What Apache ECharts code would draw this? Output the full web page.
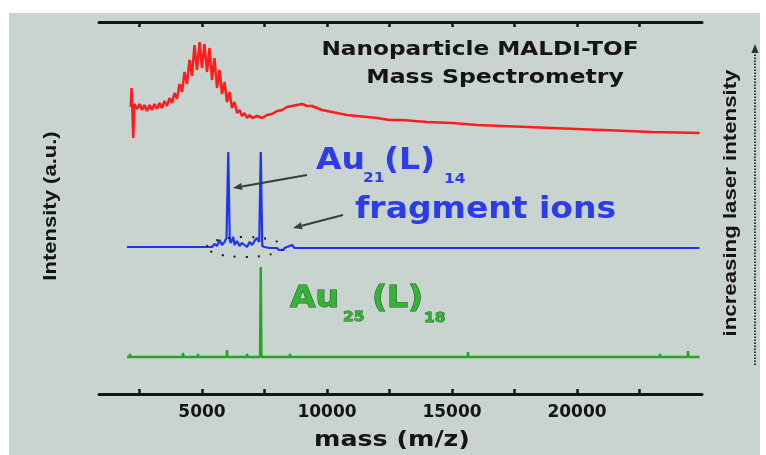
<!DOCTYPE html>
<html>
<head>
<meta charset="utf-8">
<script src="https://cdn.jsdelivr.net/npm/echarts@6/dist/echarts.min.js"></script>
<style>
html,body{margin:0;padding:0;background:#ffffff;}
#chart{width:766px;height:455px;}
</style>
</head>
<body>
<div id="chart"></div>
<script>
// ---- data (mass in m/z, intensity in arbitrary units) ----
const majorTicks = [5000, 10000, 15000, 20000];
const minorTicks = [2500, 5000, 7500, 10000, 12500, 15000, 17500, 20000, 22500];

const redMass = [2150,2180,2200,2250,2300,2400,2500,2600,2700,2800,2900,3000,3100,3200,3300,3400,3500,3600,3700,3800,3900,4000,4100,4200,4300,4400,4500,4600,4700,4800,4900,5000,5100,5200,5300,5400,5500,5600,5700,5800,5900,6000,6100,6200,6300,6400,6500,6600,6700,6800,6900,7000,7200,7400,7600,7800,8000,8200,8400,8600,8800,9000,9200,9400,9600,9800,10000,10400,10800,11200,11600,12000,12500,13000,14000,15000,16000,17000,18000,19000,20000,21000,22000,23000,24000,24900];
const redInt  = [33,52,40,2,36,31,36,30,35,29,35,30,36,31,37,32,39,34,42,37,47,41,56,48,68,56,80,64,95,70,98,72,96,68,92,60,82,52,70,46,58,38,48,32,38,27,30,24,27,22,25,22,24,22,25,26,29,30,33,34,35,36,34,34,32,30,29,27,25,24,23,22,20,20,18,17,15,14,13,12,11,10,9,8,7.5,7];

const blueMass = [2000,2500,3000,3500,4000,4500,5000,5400,5500,5600,5700,5800,5900,5980,6050,6110,6150,6250,6300,6400,6500,6600,6700,6800,6900,7000,7100,7200,7290,7350,7410,7500,7700,8000,8200,8300,8600,8700,9000,10000,12000,14000,16000,18000,20000,22000,24000,24900];
const blueInt  = [3,3,3,3,3,3,3,3,6,4,10,5,8,12,98,10,7,13,5,9,4,7,5,3,8,5,9,12,8,98,4,3,2,2,-3,2,5,2,2,2,2,2,2,2,2,2,2,2];

const greenMass = [2000, 2100,2120,2140, 2420,2440,2460, 2900,2920,2940, 3500,3520,3540, 4220,4240,4260, 4820,4840,4860, 5420,5440,5460, 5980,6000,6020, 6780,6800,6820, 7320,7350,7380, 8500,8520,8540, 9980,10000,10020, 10900,10920,10940, 11700,11720,11740, 12380,12400,12420, 13980,14000,14020, 15620,15640,15660, 16900,16920,16940, 19300,19320,19340, 21700,21720,21740, 23300,23320,23340, 24420,24440,24460, 24900];
const greenInt  = [3, 3,6,3, 3,5,3, 3,5,3, 3,5,3, 3,7,3, 3,6,3, 3,5,3, 3,10,3, 3,6,3, 3,93,3, 3,6,3, 3,5,3, 3,4,3, 3,5,3, 3,5,3, 3,5,3, 3,8,3, 3,5,3, 3,5,3, 3,5,3, 3,6,3, 3,9,3, 3];

const zip = (a, b) => a.map((v, i) => [v, b[i]]);

// ---- chart ----
const chart = echarts.init(document.getElementById('chart'), null, {renderer: 'canvas'});

const X_MIN = 880, X_MAX = 25000;
const L = 99, R = 64;
const hiddenX = (g) => ({gridIndex: g, type: 'value', min: X_MIN, max: X_MAX, show: false});
const hiddenY = (g) => ({gridIndex: g, type: 'value', min: 0, max: 110, show: false});

const axisFont = 'DejaVu Sans';
const ink = '#141414';

function arrow(x1, y1, x2, y2, color, dash) {
  const dx = x2 - x1, dy = y2 - y1, len = Math.hypot(dx, dy);
  const ux = dx / len, uy = dy / len;
  const hl = 9, hw = 3.6;
  const bx = x2 - ux * hl, by = y2 - uy * hl;
  return [
    {type: 'line', silent: true, z: 50,
     shape: {x1: x1, y1: y1, x2: bx, y2: by},
     style: {stroke: color, lineWidth: 2, lineDash: dash || null}},
    {type: 'polygon', silent: true, z: 50,
     shape: {points: [[x2, y2], [bx - uy * hw, by + ux * hw], [bx + uy * hw, by - ux * hw]]},
     style: {fill: color}}
  ];
}

function txt(x, y, text, font, fill, extra, el) {
  return Object.assign({
    type: 'text', silent: true, z: 60, x: x, y: y,
    style: Object.assign({text: text, font: font, fill: fill, textAlign: 'left', textVerticalAlign: 'middle'}, extra || {})
  }, el || {});
}

const blue = '#2a3cec', green = '#36b236', greenEdge = '#1b5e1b';
const big = 'bold 30px "DejaVu Sans"';
const sub = 'bold 14px "DejaVu Sans"';
const wide = {scaleX: 1.1};
const gEdge = {stroke: greenEdge, lineWidth: 1};

const graphics = [
  {type: 'rect', silent: true, z: -10, shape: {x: 9, y: 13, width: 751, height: 442}, style: {fill: '#c9d3d0'}},
  txt(480, 50, 'Nanoparticle MALDI-TOF', 'bold 20px "DejaVu Sans"', ink, {textAlign: 'center'}, {scaleX: 1.16}),
  txt(495, 78, 'Mass Spectrometry', 'bold 20px "DejaVu Sans"', ink, {textAlign: 'center'}, {scaleX: 1.18}),
  // Au21(L)14
  txt(316, 161, 'Au', big, blue, null, wide),
  txt(363, 178, '21', sub, blue, null, wide),
  txt(384, 161, '(L)', big, blue, null, wide),
  txt(444, 179, '14', sub, blue, null, wide),
  // fragment ions
  txt(355, 210, 'fragment ions', big, blue, null, wide),
  // Au25(L)18
  txt(290, 299, 'Au', big, green, gEdge, wide),
  txt(343, 317, '25', sub, green, {stroke: greenEdge, lineWidth: 0.8}, wide),
  txt(372, 299, '(L)', big, green, gEdge, wide),
  txt(424, 318, '18', sub, green, {stroke: greenEdge, lineWidth: 0.8}, wide),
  // axis titles
  txt(392, 440, 'mass (m/z)', 'bold 22px "DejaVu Sans"', ink, {textAlign: 'center'}, {scaleX: 1.15}),
  txt(51, 206, 'Intensity (a.u.)', 'bold 19px "Liberation Sans"', ink, {textAlign: 'center'}, {rotation: Math.PI / 2, scaleX: 1.16}),
  txt(731, 203, 'increasing laser intensity', 'bold 19px "Liberation Sans"', ink, {textAlign: 'center'}, {rotation: Math.PI / 2, scaleX: 1.17}),
  // dotted ellipse around fragment ions
  {type: 'ellipse', silent: true, z: 40, shape: {cx: 245, cy: 247, rx: 38, ry: 10},
   style: {fill: null, stroke: '#151515', lineWidth: 2, lineDash: [2, 10]}},
  ...arrow(307, 175, 233, 188, '#3c3c3c'),
  ...arrow(343, 215, 293, 228, '#3c3c3c'),
  ...arrow(755, 365, 755, 44, '#333333', [1.5, 1.5])
];

const option = {
  animation: false,
  backgroundColor: 'transparent',
  grid: [
    {left: L, right: R, top: 22, bottom: 61},
    {left: L, right: R, top: 30, height: 110},
    {left: L, right: R, top: 140, height: 110},
    {left: L, right: R, top: 250, height: 110}
  ],
  xAxis: [
    {gridIndex: 0, type: 'value', position: 'bottom', min: X_MIN, max: X_MAX,
     splitLine: {show: false},
     axisLine: {show: true, onZero: false, lineStyle: {color: ink, width: 3}},
     axisTick: {show: true, inside: true, length: 5, customValues: minorTicks, lineStyle: {color: ink, width: 2.5}},
     axisLabel: {show: true, customValues: majorTicks, margin: 10, color: ink,
                 formatter: (v) => String(v),
                 fontFamily: axisFont, fontWeight: 'bold', fontSize: 17}},
    {gridIndex: 0, type: 'value', position: 'top', min: X_MIN, max: X_MAX,
     splitLine: {show: false},
     axisLine: {show: true, onZero: false, lineStyle: {color: ink, width: 3}},
     axisTick: {show: true, inside: true, length: 5, customValues: minorTicks, lineStyle: {color: ink, width: 2.5}},
     axisLabel: {show: false}},
    hiddenX(1), hiddenX(2), hiddenX(3)
  ],
  yAxis: [
    {gridIndex: 0, type: 'value', show: false},
    hiddenY(1), hiddenY(2), hiddenY(3)
  ],
  series: [
    {type: 'line', xAxisIndex: 2, yAxisIndex: 1, data: zip(redMass, redInt), showSymbol: false,
     lineStyle: {color: '#ff1c1c', width: 2.5}, z: 5},
    {type: 'line', xAxisIndex: 3, yAxisIndex: 2, data: zip(blueMass, blueInt), showSymbol: false,
     lineStyle: {color: '#1e34f5', width: 2.2}, z: 5},
    {type: 'line', xAxisIndex: 4, yAxisIndex: 3, data: zip(greenMass, greenInt), showSymbol: false,
     lineStyle: {color: '#22a822', width: 2.4}, z: 5}
  ],
  graphic: graphics
};
chart.setOption(option);
</script>
</body>
</html>
